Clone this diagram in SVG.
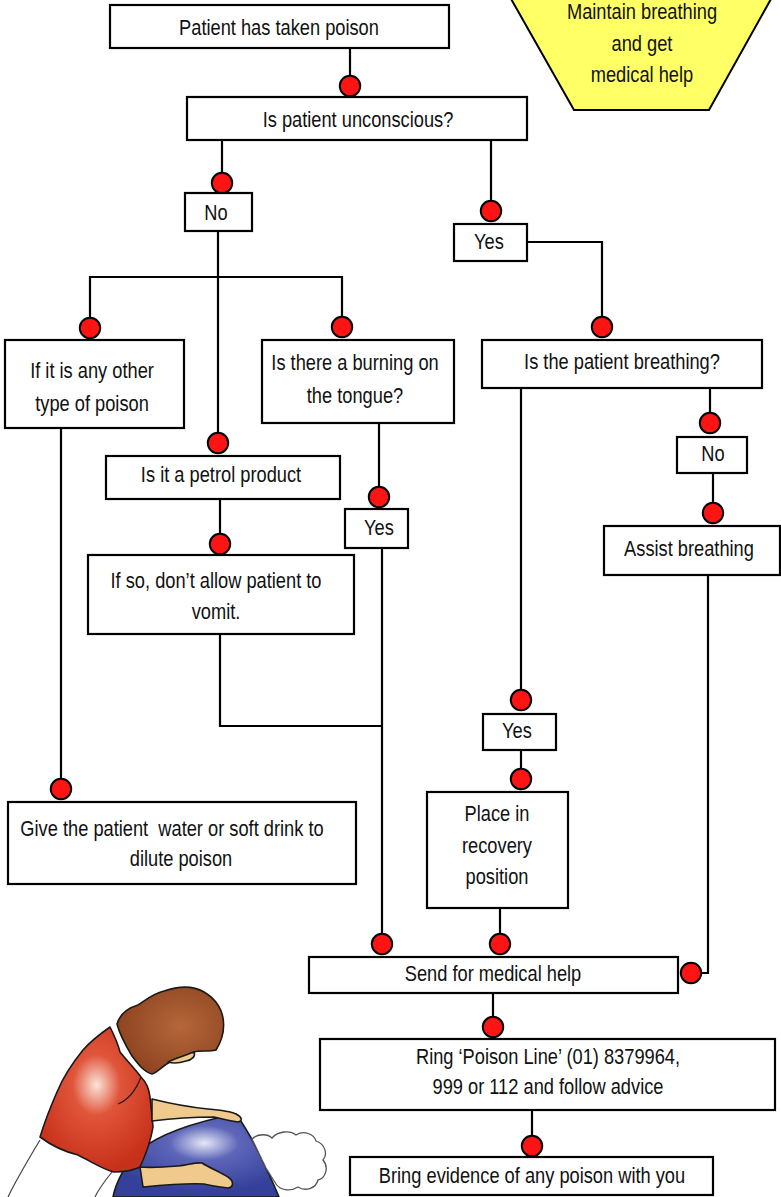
<svg xmlns="http://www.w3.org/2000/svg" width="781" height="1197" viewBox="0 0 781 1197">
  <defs>
    <style>
      .box { fill: #ffffff; stroke: #000000; stroke-width: 2.2; }
      .lbl { font-family: "Liberation Sans", Arial, sans-serif; font-size: 22px; fill: #111111; text-anchor: middle; white-space: pre; }
      .wire { fill: none; stroke: #000000; stroke-width: 2.2; }
      .dotted { marker-end: url(#dot); }
      .ink { stroke: #1a1a1a; stroke-width: 1.6; stroke-linejoin: round; stroke-linecap: round; }
    </style>
    <marker id="dot" viewBox="-12 -12 24 24" markerWidth="24" markerHeight="24" markerUnits="userSpaceOnUse" refX="0" refY="0" orient="0">
      <circle cx="0" cy="0" r="10.2" fill="#ff1414" stroke="#000000" stroke-width="2"/>
    </marker>
    <radialGradient id="shirtShade" cx="0.5" cy="0.4" r="0.6">
      <stop offset="0" stop-color="#fbe4d8"/>
      <stop offset="0.35" stop-color="#e0553a"/>
      <stop offset="1" stop-color="#c7301a"/>
    </radialGradient>
    <radialGradient id="hairShade" cx="0.6" cy="0.45" r="0.6">
      <stop offset="0" stop-color="#b5673a"/>
      <stop offset="1" stop-color="#8e4420"/>
    </radialGradient>
    <radialGradient id="bodyShade" cx="0.55" cy="0.35" r="0.6">
      <stop offset="0" stop-color="#e6e8f6"/>
      <stop offset="0.35" stop-color="#5d66b8"/>
      <stop offset="1" stop-color="#34409a"/>
    </radialGradient>
  </defs>

  <!-- warning panel -->
  <g id="note-maintain-breathing">
    <polygon points="506,-10 776,-10 709,110 574,110" fill="#ffff66" stroke="#000000" stroke-width="2"/>
    <text class="lbl" transform="translate(642,19) scale(0.83,1)">Maintain breathing</text>
    <text class="lbl" transform="translate(642,51) scale(0.83,1)">and get</text>
    <text class="lbl" transform="translate(642,82) scale(0.83,1)">medical help</text>
  </g>

  <!-- connectors -->
  <g id="connectors" class="wire">
    <path class="dotted" d="M350,48 V86"/>
    <path class="dotted" d="M222,140 V183"/>
    <path class="dotted" d="M491,140 V211"/>
    <path class="dotted" d="M218,231 V443"/>
    <path class="dotted" d="M218,277 H90 V328"/>
    <path class="dotted" d="M218,277 H342 V327"/>
    <path class="dotted" d="M527,242 H602 V327"/>
    <path class="dotted" d="M61,428 V789"/>
    <path class="dotted" d="M220,499 V544"/>
    <path class="dotted" d="M379,423 V497"/>
    <path d="M220,634 V726 H382"/>
    <path class="dotted" d="M382,548 V944"/>
    <path class="dotted" d="M521,388 V700"/>
    <path class="dotted" d="M521,750 V779"/>
    <path class="dotted" d="M500,908 V944"/>
    <path class="dotted" d="M710,388 V423"/>
    <path class="dotted" d="M713,473 V513"/>
    <path class="dotted" d="M708,575 V973 H691"/>
    <path class="dotted" d="M493,993 V1027"/>
    <path class="dotted" d="M532,1110 V1146"/>
  </g>

  <!-- steps -->
  <g id="n-taken-poison">
    <rect class="box" x="110" y="5" width="339" height="43"/>
    <text class="lbl" transform="translate(279,35) scale(0.83,1)">Patient has taken poison</text>
  </g>
  <g id="n-unconscious">
    <rect class="box" x="187" y="97" width="340" height="43"/>
    <text class="lbl" transform="translate(358,127) scale(0.83,1)">Is patient unconscious?</text>
  </g>
  <g id="n-no-1">
    <rect class="box" x="185" y="193" width="67" height="38"/>
    <text class="lbl" transform="translate(216,220) scale(0.83,1)">No</text>
  </g>
  <g id="n-yes-1">
    <rect class="box" x="454" y="224" width="73" height="37"/>
    <text class="lbl" transform="translate(489,249) scale(0.83,1)">Yes</text>
  </g>
  <g id="n-other-poison">
    <rect class="box" x="5" y="340" width="179" height="88"/>
    <text class="lbl" transform="translate(92,378) scale(0.83,1)">If it is any other</text>
    <text class="lbl" transform="translate(92,411) scale(0.83,1)">type of poison</text>
  </g>
  <g id="n-burning">
    <rect class="box" x="262" y="340" width="192" height="83"/>
    <text class="lbl" transform="translate(355,370) scale(0.83,1)">Is there a burning on</text>
    <text class="lbl" transform="translate(355,403) scale(0.83,1)">the tongue?</text>
  </g>
  <g id="n-breathing">
    <rect class="box" x="482" y="340" width="280" height="48"/>
    <text class="lbl" transform="translate(622,369) scale(0.83,1)">Is the patient breathing?</text>
  </g>
  <g id="n-no-2">
    <rect class="box" x="677" y="437" width="70" height="36"/>
    <text class="lbl" transform="translate(713,461) scale(0.83,1)">No</text>
  </g>
  <g id="n-petrol">
    <rect class="box" x="106" y="456" width="234" height="43"/>
    <text class="lbl" transform="translate(221,482) scale(0.83,1)">Is it a petrol product</text>
  </g>
  <g id="n-yes-2">
    <rect class="box" x="345" y="509" width="63" height="39"/>
    <text class="lbl" transform="translate(379,535) scale(0.83,1)">Yes</text>
  </g>
  <g id="n-assist">
    <rect class="box" x="604" y="526" width="176" height="49"/>
    <text class="lbl" transform="translate(689,556) scale(0.83,1)">Assist breathing</text>
  </g>
  <g id="n-no-vomit">
    <rect class="box" x="88" y="555" width="266" height="79"/>
    <text class="lbl" transform="translate(216,588) scale(0.83,1)">If so, don’t allow patient to</text>
    <text class="lbl" transform="translate(216,619) scale(0.83,1)">vomit.</text>
  </g>
  <g id="n-yes-3">
    <rect class="box" x="483" y="714" width="73" height="36"/>
    <text class="lbl" transform="translate(517,738) scale(0.83,1)">Yes</text>
  </g>
  <g id="n-recovery">
    <rect class="box" x="427" y="792" width="141" height="116"/>
    <text class="lbl" transform="translate(497,821) scale(0.83,1)">Place in</text>
    <text class="lbl" transform="translate(497,853) scale(0.83,1)">recovery</text>
    <text class="lbl" transform="translate(497,884) scale(0.83,1)">position</text>
  </g>
  <g id="n-dilute">
    <rect class="box" x="8" y="802" width="348" height="82"/>
    <text class="lbl" transform="translate(172,836) scale(0.83,1)">Give the patient  water or soft drink to</text>
    <text class="lbl" transform="translate(181,866) scale(0.83,1)">dilute poison</text>
  </g>
  <g id="n-send-help">
    <rect class="box" x="309" y="957" width="369" height="36"/>
    <text class="lbl" transform="translate(493,981) scale(0.83,1)">Send for medical help</text>
  </g>
  <g id="n-poison-line">
    <rect class="box" x="320" y="1039" width="455" height="71"/>
    <text class="lbl" transform="translate(548,1064) scale(0.83,1)">Ring ‘Poison Line’ (01) 8379964,</text>
    <text class="lbl" transform="translate(548,1094) scale(0.83,1)">999 or 112 and follow advice</text>
  </g>
  <g id="n-evidence">
    <rect class="box" x="350" y="1157" width="363" height="38"/>
    <text class="lbl" transform="translate(532,1183) scale(0.83,1)">Bring evidence of any poison with you</text>
  </g>

  <!-- rescuer turning a casualty into the recovery position -->
  <g id="illustration">
    <!-- rescuer's legs -->
    <path d="M40,1140 C28,1160 16,1180 8,1197" fill="none" stroke="#444" stroke-width="1.2"/>
    <path d="M112,1172 C104,1182 98,1190 95,1197" fill="none" stroke="#444" stroke-width="1.2"/>
    <!-- casualty's body -->
    <path class="ink" fill="url(#bodyShade)" d="M140,1150 C160,1134 195,1122 236,1114 C246,1128 258,1150 266,1168 C272,1180 276,1190 279,1197 L113,1197 C116,1182 126,1162 140,1150 Z"/>
    <!-- casualty's head -->
    <path fill="#ffffff" stroke="#555" stroke-width="1.3" d="M252,1139 C258,1133 268,1134 272,1138 C278,1131 290,1130 296,1135 C304,1130 314,1134 316,1141 C325,1144 328,1154 323,1160 C329,1167 326,1178 318,1180 C316,1188 306,1192 298,1187 C290,1192 280,1190 276,1184 L266,1168 C260,1156 256,1147 252,1139 Z"/>
    <!-- shirt -->
    <path class="ink" fill="url(#shirtShade)" d="M110,1027 C100,1034 90,1042 83,1050 C70,1066 62,1080 57,1092 C50,1108 44,1124 40,1137 C52,1146 66,1152 78,1155 C92,1162 104,1170 114,1172 C124,1172 134,1170 140,1167 C146,1154 151,1140 153,1127 C152,1116 151,1106 150,1097 C149,1088 146,1082 141,1077 C136,1070 128,1062 120,1052 C118,1044 114,1035 110,1027 Z"/>
    <path d="M141,1077 C136,1090 128,1100 118,1104" fill="none" stroke="#1a1a1a" stroke-width="1.2"/>
    <!-- upper arm reaching to the shoulder -->
    <path class="ink" fill="#efca8c" d="M152,1099 C168,1103 188,1107 208,1109 C220,1110 230,1111 236,1114 C242,1117 243,1121 238,1122 C230,1121 222,1119 214,1117 C190,1117 168,1119 152,1121 Z"/>
    <!-- lower arm reaching to the hip -->
    <path class="ink" fill="#efca8c" d="M140,1167 C152,1168 166,1167 178,1166 C188,1165 196,1162 202,1163 C210,1168 220,1172 228,1177 C234,1181 234,1187 228,1188 C220,1187 212,1186 204,1184 C186,1183 164,1185 143,1187 Z"/>
    <!-- hair -->
    <path class="ink" fill="url(#hairShade)" d="M117,1024 C120,1014 128,1008 138,1005 C146,1000 152,994 164,991 C176,987 192,985 204,992 C214,998 221,1007 223,1018 C225,1030 221,1042 216,1050 C208,1052 200,1050 194,1052 C186,1056 178,1060 170,1062 C162,1066 158,1072 152,1074 C144,1072 138,1064 132,1056 C126,1046 120,1036 117,1024 Z"/>
    <!-- face -->
    <path class="ink" fill="#efca8c" d="M168,1062 C176,1058 186,1055 194,1052 C196,1056 192,1060 186,1061 C180,1063 174,1064 168,1062 Z"/>
  </g>
</svg>
